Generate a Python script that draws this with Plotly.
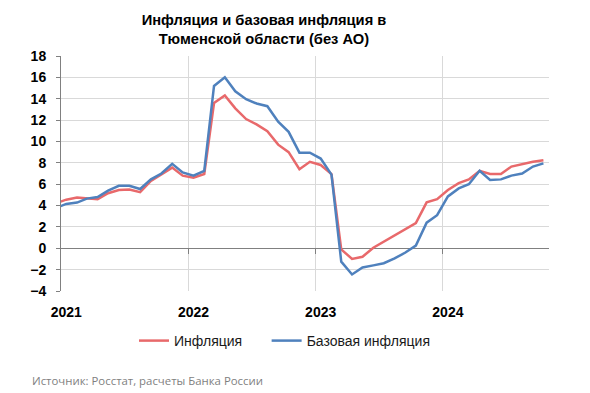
import pandas as pd
import plotly.graph_objects as go

# Monthly data, Dec 2020 .. Oct 2024 (mid-month positions)
months = pd.date_range("2020-12-01", "2024-10-01", freq="MS") + pd.Timedelta(days=15)

inflation = [4.2,
             4.55, 4.75, 4.7, 4.6, 5.15, 5.45, 5.5, 5.25, 6.3, 6.9, 7.55, 6.8,
             6.6, 6.95, 13.6, 14.3, 13.1, 12.1, 11.6, 10.95, 9.7, 9.0, 7.4, 8.1,
             7.8, 6.95, -0.1, -1.0, -0.8, 0.05, 0.6, 1.2, 1.8, 2.35, 4.3, 4.6,
             5.45, 6.1, 6.45, 7.25, 6.95, 6.95, 7.65, 7.9, 8.1, 8.25]
core_inflation = [3.75,
                  4.15, 4.28, 4.65, 4.8, 5.4, 5.85, 5.85, 5.55, 6.45, 7.0, 7.9, 7.1,
                  6.8, 7.25, 15.2, 16.0, 14.7, 13.95, 13.55, 13.3, 11.85, 10.9, 8.95, 8.95,
                  8.4, 6.9, -1.25, -2.45, -1.8, -1.6, -1.4, -0.95, -0.4, 0.25, 2.4, 3.1,
                  4.85, 5.6, 6.0, 7.25, 6.4, 6.45, 6.8, 7.0, 7.65, 7.95]

series_names = ["Инфляция", "Базовая инфляция"]
year_labels = ["2021", "2022", "2023", "2024"]
year_label_pos = ["2021-01-16", "2022-01-16", "2023-01-16", "2024-01-16"]
year_bounds = ["2021-01-01", "2022-01-01", "2023-01-01", "2024-01-01"]
x_range = ["2021-01-01", "2024-11-01"]
y_range = [-4, 18]

RED = "#E8696B"
BLUE = "#4F81BD"
GRID = "#D9D9D9"
AXIS = "#808080"
FONT = "Liberation Sans, Arial, sans-serif"

# page body has an 8px default margin -> figure coordinates are screen - 8
W, H = 590, 393
ML, MR, MT, MB = 53, 49, 48, 110
PW, PH = W - ML - MR, H - MT - MB

NBSP = "\u00a0"

fig = go.Figure()
fig.add_trace(go.Scatter(x=months, y=inflation, mode="lines",
                         name=series_names[0] + NBSP * 5,
                         line=dict(color=RED, width=2.5)))
fig.add_trace(go.Scatter(x=months, y=core_inflation, mode="lines",
                         name=series_names[1],
                         line=dict(color=BLUE, width=2.5)))
# helper trace so the zero-line tick axis is drawn
fig.add_trace(go.Scatter(x=[x_range[0]], y=[None], xaxis="x2", showlegend=False,
                         hoverinfo="skip"))

zero_pos = (0 - y_range[0]) / (y_range[1] - y_range[0])

fig.update_layout(
    width=W, height=H,
    margin=dict(l=ML, r=MR, t=MT, b=MB, autoexpand=False),
    paper_bgcolor="white", plot_bgcolor="white",
    font=dict(family=FONT, color="black"),
    title=dict(text="<b>Инфляция и базовая инфляция в<br>Тюменской области (без АО)</b>",
               x=256 / W, xanchor="center", xref="container",
               y=1 - 17 / H, yanchor="top",
               font=dict(size=14.7, family=FONT, color="black")),
    showlegend=True,
    legend=dict(orientation="h", x=126 / W, xanchor="left", xref="container",
                y=1 - 317 / H, yref="container", yanchor="top",
                font=dict(size=14, family=FONT, color="#1a1a1a"),
                itemwidth=30),
    xaxis=dict(type="date", range=x_range, tickvals=year_label_pos, ticktext=year_labels,
               tickfont=dict(size=14, family=FONT, color="black", weight="bold"),
               showgrid=False, showline=False, ticks="", zeroline=False,
               ticklabelstandoff=11,
               minor=dict(tickvals=year_bounds, showgrid=True, gridcolor=GRID,
                          gridwidth=1, ticks=""),
               fixedrange=True),
    xaxis2=dict(type="date", range=x_range, overlaying="x", anchor="free",
                position=zero_pos, tickvals=year_bounds[1:], ticks="outside",
                ticklen=5, tickcolor=AXIS, tickwidth=1, showticklabels=False,
                showgrid=False, showline=False, zeroline=False),
    yaxis=dict(range=y_range, dtick=2, tick0=0, showgrid=True, gridcolor=GRID, gridwidth=1,
               showline=True, linecolor=AXIS, linewidth=1,
               ticks="outside", ticklen=4, tickcolor=AXIS,
               zeroline=True, zerolinecolor=AXIS, zerolinewidth=1,
               tickfont=dict(size=14, family=FONT, color="black", weight="bold"),
               ticklabelstandoff=7),
)

fig.add_annotation(text="Источник: Росстат, расчеты Банка России",
                   xref="paper", yref="paper",
                   x=(22 - ML) / PW, y=(H - MB - 372) / PH, xanchor="left", yanchor="middle",
                   showarrow=False, font=dict(size=11.4, family="Open Sans, sans-serif",
                                              color="#7F7F7F"))

fig.write_html("out.html")
